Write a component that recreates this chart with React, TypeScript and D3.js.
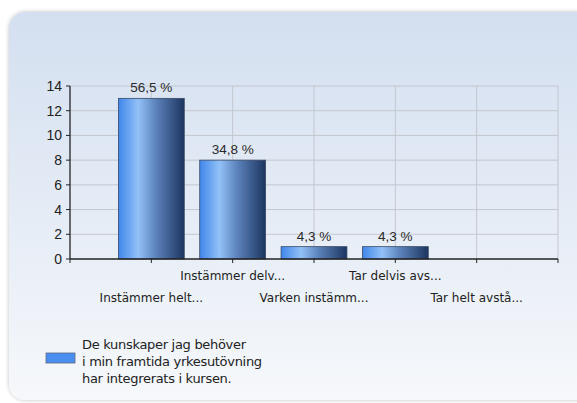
import React from 'react';
import * as d3 from 'd3';

const categories = ['Instämmer helt...', 'Instämmer delv...', 'Varken instämm...', 'Tar delvis avs...', 'Tar helt avstå...'];
const counts = [13, 8, 1, 1, 0];
const percentLabels = ['56,5 %', '34,8 %', '4,3 %', '4,3 %', ''];
const yTicks = [0, 2, 4, 6, 8, 10, 12, 14];
const legendLines = ['De kunskaper jag behöver', 'i min framtida yrkesutövning', 'har integrerats i kursen.'];

const W = 577;
const H = 403;

const App = () => {
  const margin = { left: 70, right: 19, top: 86, bottom: 144 };
  const plotW = W - margin.left - margin.right;
  const plotH = H - margin.top - margin.bottom;

  // bars sit on the tick positions 1..5, position 0 is the y axis
  const x = d3.scaleLinear().domain([0, categories.length + 1]).range([0, plotW]);
  const y = d3.scaleLinear().domain([0, 14]).range([plotH, 0]);
  const step = x(1) - x(0);
  const barW = step * 0.81;
  const xTicks = d3.range(0, categories.length + 2);

  return (
    <svg width={W} height={H} style={{ position: 'absolute', left: 0, top: 0, fontFamily: 'Liberation Sans, Arial, sans-serif' }}>
      <defs>
        <linearGradient id="panelGrad" x1="0" y1="0" x2="0" y2="1">
          <stop offset="0%" stopColor="#d3dff0" />
          <stop offset="100%" stopColor="#f6f8fb" />
        </linearGradient>
        <linearGradient id="barGrad" x1="0" y1="0" x2="1" y2="0">
          <stop offset="0%" stopColor="#3f86ea" />
          <stop offset="30%" stopColor="#92c1f7" />
          <stop offset="55%" stopColor="#5f86bf" />
          <stop offset="100%" stopColor="#1c3560" />
        </linearGradient>
        <filter id="shadow" x="-5%" y="-5%" width="110%" height="110%">
          <feGaussianBlur in="SourceAlpha" stdDeviation="2" />
          <feOffset dx="0" dy="0" result="b" />
          <feComponentTransfer><feFuncA type="linear" slope="0.25" /></feComponentTransfer>
          <feMerge><feMergeNode /><feMergeNode in="SourceGraphic" /></feMerge>
        </filter>
      </defs>
      <rect x={0} y={0} width={W} height={H} fill="#ffffff" />
      <rect x={9} y={12} width={W + 20} height={388} rx={16} fill="url(#panelGrad)" filter="url(#shadow)" />

      <g transform={`translate(${margin.left},${margin.top})`}>
        {/* grid */}
        {yTicks.filter(t => t > 0).map(t => (
          <line key={'gy' + t} x1={0} x2={plotW} y1={y(t)} y2={y(t)} stroke="#c3c7cf" strokeWidth={1} />
        ))}
        {xTicks.filter(t => t > 0).map(t => (
          <line key={'gx' + t} x1={x(t)} x2={x(t)} y1={0} y2={plotH} stroke="#c3c7cf" strokeWidth={1} />
        ))}

        {/* bars */}
        {counts.map((c, i) => c > 0 && (
          <rect key={'b' + i} x={x(i + 1) - barW / 2} y={y(c)} width={barW} height={plotH - y(c)}
            fill="url(#barGrad)" stroke="#3a4a66" strokeWidth={0.8} />
        ))}
        {percentLabels.map((l, i) => l && (
          <text key={'p' + i} x={x(i + 1)} y={y(counts[i]) - 6} textAnchor="middle" fontSize={13.5} fill="#2a2a2a">{l}</text>
        ))}

        {/* axes */}
        <line x1={0} x2={0} y1={0} y2={plotH} stroke="#222" strokeWidth={1.3} />
        <line x1={0} x2={plotW} y1={plotH} y2={plotH} stroke="#222" strokeWidth={1.3} />
        {yTicks.map(t => (
          <g key={'ty' + t}>
            <line x1={-4} x2={0} y1={y(t)} y2={y(t)} stroke="#222" />
            <text x={-8} y={y(t)} dy="0.36em" textAnchor="end" fontSize={14} fill="#222">{t}</text>
          </g>
        ))}
        {xTicks.map(t => (
          <line key={'tx' + t} x1={x(t)} x2={x(t)} y1={plotH} y2={plotH + 4} stroke="#222" />
        ))}
        {categories.map((c, i) => (
          <text key={'c' + i} x={x(i + 1)} y={i % 2 === 0 ? plotH + 43 : plotH + 21} textAnchor="middle"
            fontSize={12} fontFamily="DejaVu Sans, sans-serif" fill="#222">{c}</text>
        ))}
      </g>

      {/* legend */}
      <rect x={46} y={353} width={29} height={10} fill="#4a8ef0" stroke="#5a6a80" strokeWidth={0.8} />
      {legendLines.map((l, i) => (
        <text key={'l' + i} x={82} y={349 + i * 17} fontSize={13} fontFamily="DejaVu Sans, sans-serif"
          fill="#222" letterSpacing={-0.3}>{l}</text>
      ))}
    </svg>
  );
};

export default App;
